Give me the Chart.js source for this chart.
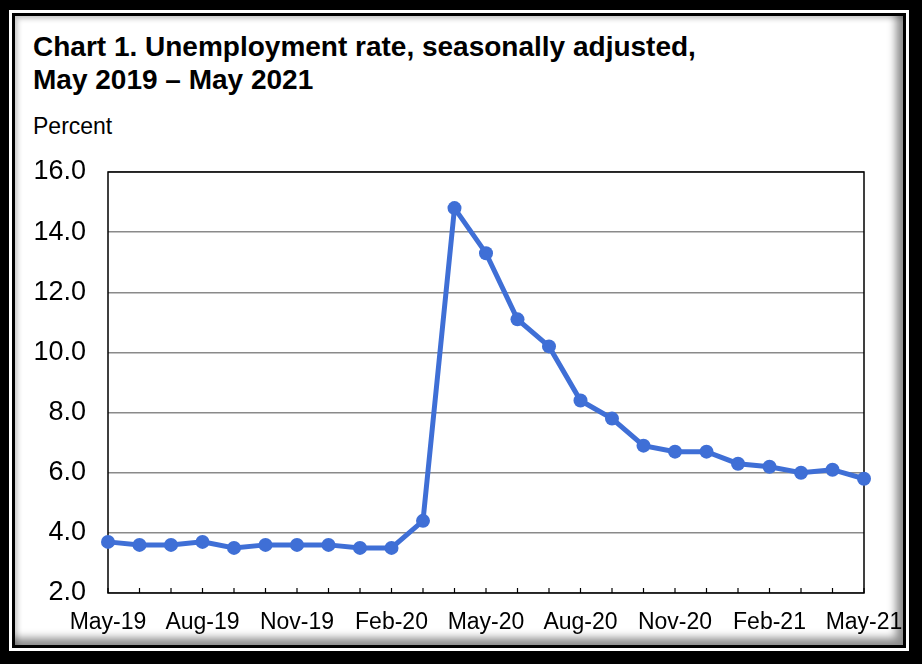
<!DOCTYPE html>
<html>
<head>
<meta charset="utf-8">
<script src="https://cdn.jsdelivr.net/npm/chart.js@4"></script>
<style>
  html, body { margin: 0; padding: 0; background: #000; }
  #page { position: relative; width: 922px; height: 664px; overflow: hidden; background: #000; }
  #gap { position: absolute; left: 9px; top: 10px; width: 900px; height: 641px; background: #fff; }
  #frame { position: absolute; left: 12px; top: 13px; width: 888px; height: 629px;
           border: 3px solid #000; background: #fff;
           box-shadow: inset -7px -7px 9px rgba(0,0,0,0.45), inset 3px 3px 5px rgba(0,0,0,0.2); }
  .txt { position: absolute; font-family: "Liberation Sans", Arial, sans-serif; color: #000; }
  #title { left: 33px; top: 30px; font-size: 28px; font-weight: bold; line-height: 33px; }
  #unit { left: 33px; top: 113px; font-size: 23px; }
  canvas { position: absolute; left: 0; top: 0; }
</style>
</head>
<body>
<div id="page">
  <div id="gap"></div>
  <div id="frame"></div>
  <div class="txt" id="title">Chart 1. Unemployment rate, seasonally adjusted,<br>May 2019 – May 2021</div>
  <div class="txt" id="unit">Percent</div>
  <canvas id="chart" width="922" height="664"></canvas>
</div>
<script>
// months May 2019 .. May 2021
const months = ["May-19","Jun-19","Jul-19","Aug-19","Sep-19","Oct-19","Nov-19","Dec-19",
  "Jan-20","Feb-20","Mar-20","Apr-20","May-20","Jun-20","Jul-20","Aug-20","Sep-20","Oct-20",
  "Nov-20","Dec-20","Jan-21","Feb-21","Mar-21","Apr-21","May-21"];
const rate = [3.7, 3.6, 3.6, 3.7, 3.5, 3.6, 3.6, 3.6, 3.5, 3.5, 4.4, 14.8, 13.3, 11.1,
  10.2, 8.4, 7.8, 6.9, 6.7, 6.7, 6.3, 6.2, 6.0, 6.1, 5.8];
const yMin = 2, yMax = 16, yStep = 2;
const labelEvery = 3;

// box around plot area + small inner tick marks on the bottom axis
const plotFrame = {
  id: 'plotFrame',
  beforeDatasetsDraw(chart) {
    const { ctx, chartArea: a, scales: { x } } = chart;
    ctx.save();
    ctx.strokeStyle = '#000';
    ctx.lineWidth = 1.5;
    ctx.strokeRect(a.left, a.top, a.right - a.left, a.bottom - a.top);
    ctx.lineWidth = 1.2;
    months.forEach((m, i) => {
      const px = x.getPixelForValue(i);
      ctx.beginPath();
      ctx.moveTo(px, a.bottom);
      ctx.lineTo(px, a.bottom - 5);
      ctx.stroke();
    });
    ctx.restore();
  }
};

new Chart(document.getElementById('chart'), {
  type: 'line',
  data: {
    labels: months,
    datasets: [{
      data: rate,
      borderColor: '#3f6fd6',
      backgroundColor: '#3f6fd6',
      borderWidth: 5,
      pointRadius: 7,
      pointHoverRadius: 7,
      pointBorderWidth: 0,
      tension: 0,
      clip: false
    }]
  },
  options: {
    responsive: false,
    animation: false,
    devicePixelRatio: 1,
    layout: { padding: { left: 0, top: 172, right: 58, bottom: 0 } },
    plugins: { legend: { display: false }, tooltip: { enabled: false } },
    scales: {
      x: {
        offset: false,
        grid: { display: false, drawTicks: false },
        border: { display: false },
        ticks: {
          autoSkip: false, maxRotation: 0, minRotation: 0, padding: 16,
          color: '#000',
          font: { family: '"Liberation Sans", Arial, sans-serif', size: 23 },
          callback: (v, i) => i % labelEvery === 0 ? months[i] : ''
        },
        afterFit: s => { s.height = 71; }
      },
      y: {
        min: yMin, max: yMax,
        grid: { color: '#8a8a8a', lineWidth: 1.5, drawTicks: false },
        border: { display: false },
        ticks: {
          stepSize: yStep, padding: 22, color: '#000',
          font: { family: '"Liberation Sans", Arial, sans-serif', size: 27 },
          callback: v => v.toFixed(1)
        },
        afterFit: s => { s.width = 108; }
      }
    }
  },
  plugins: [plotFrame]
});
</script>
</body>
</html>
